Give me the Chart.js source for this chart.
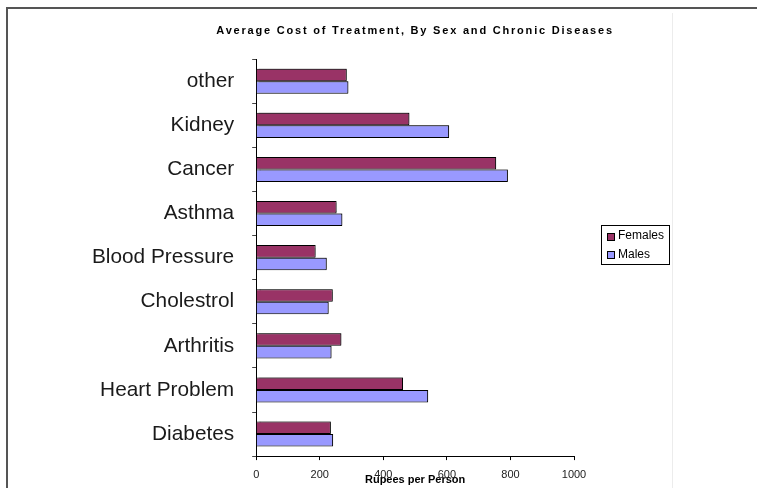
<!DOCTYPE html>
<html>
<head>
<meta charset="utf-8">
<title>Average Cost of Treatment</title>
<script src="https://cdn.jsdelivr.net/npm/chart.js@4.4.0/dist/chart.umd.min.js"></script>
<style>
    html, body { margin: 0; padding: 0; background: #fff; }
    #wrap { width: 757px; height: 488px; }
</style>
</head>
<body>
<div id="wrap"><canvas id="myChartCost" width="757" height="488"></canvas></div>
<script>
// categories, top to bottom as in the picture
let labelsDiseases = ['other', 'Kidney', 'Cancer', 'Asthma', 'Blood Pressure', 'Cholestrol', 'Arthritis', 'Heart Problem', 'Diabetes'];

// rupees per person
let dataFemales = [285, 482, 755, 253, 187, 241, 268, 462, 235];
let dataMales = [290, 607, 792, 271, 222, 228, 237, 541, 242];

// x axis ticks
let ticksRupees = [0, 200, 400, 600, 800, 1000];

let colorFemales = '#993366';
let colorMales = '#9999FF';

Chart.defaults.font.family = "'Liberation Sans', Arial, sans-serif";

// white background + frame lines (top and left), light divider on the right
const framePlugin = {
    id: 'frame',
    beforeDraw(chart) {
        const ctx = chart.ctx;
        ctx.save();
        ctx.fillStyle = '#fff';
        ctx.fillRect(0, 0, chart.width, chart.height);
        ctx.strokeStyle = '#555';
        ctx.lineWidth = 2;
        ctx.beginPath();
        ctx.moveTo(7, chart.height);
        ctx.lineTo(7, 8);
        ctx.lineTo(chart.width, 8);
        ctx.stroke();
        ctx.strokeStyle = '#ececec';
        ctx.lineWidth = 1;
        ctx.beginPath();
        ctx.moveTo(672.5, 13);
        ctx.lineTo(672.5, chart.height);
        ctx.stroke();
        ctx.restore();
    }
};

// title with wider letter spacing (box widened so the text is not squeezed)
const titleSpacingPlugin = {
    id: 'titleSpacing',
    afterLayout(chart) {
        let t = chart.titleBlock;
        if (t && !t.spaced) {
            let draw = t.draw.bind(t);
            t.draw = function (area) {
                let l = t.left, r = t.right;
                t.left = l - 100;
                t.right = r + 100;
                chart.ctx.save();
                chart.ctx.letterSpacing = '1.8px';
                draw(area);
                chart.ctx.restore();
                t.left = l;
                t.right = r;
            };
            t.spaced = true;
        }
    }
};

// small grey shadow behind the bars
const shadowPlugin = {
    id: 'barShadow',
    beforeDatasetsDraw(chart) {
        const ctx = chart.ctx;
        ctx.save();
        ctx.shadowColor = 'rgba(0,0,0,0.35)';
        ctx.shadowOffsetX = 2;
        ctx.shadowOffsetY = -1;
        ctx.shadowBlur = 1;
    },
    afterDatasetsDraw(chart) {
        chart.ctx.restore();
    }
};

// boxed legend to the right of the plot
const legendBoxPlugin = {
    id: 'legendBox',
    afterDraw(chart) {
        const ctx = chart.ctx;
        const area = chart.chartArea;
        let x = area.right + 27;
        let y = 225;
        let w = 68;
        let h = 39;
        ctx.save();
        ctx.strokeStyle = '#000';
        ctx.lineWidth = 1;
        ctx.strokeRect(x + 0.5, y + 0.5, w, h);
        ctx.font = "12px 'Liberation Sans', Arial, sans-serif";
        ctx.textBaseline = 'middle';
        chart.data.datasets.forEach(function (ds, i) {
            let cy = y + 11 + i * 18.7;
            ctx.fillStyle = ds.backgroundColor;
            ctx.fillRect(x + 6, Math.round(cy - 3.5), 7, 7);
            ctx.strokeRect(x + 6.5, Math.round(cy - 3.5) + 0.5, 7, 7);
            ctx.fillStyle = '#000';
            ctx.fillText(ds.label, x + 17, cy);
        });
        ctx.restore();
    }
};

let ctxCost = document.getElementById('myChartCost').getContext('2d');

let chartCost = new Chart(ctxCost, {
    type: 'bar',
    data: {
        labels: labelsDiseases,
        datasets: [{
            label: 'Females',
            data: dataFemales,
            backgroundColor: colorFemales,
            borderColor: '#000',
            borderWidth: 1,
            categoryPercentage: 0.57,
            barPercentage: 1.0
        }, {
            label: 'Males',
            data: dataMales,
            backgroundColor: colorMales,
            borderColor: '#000',
            borderWidth: 1,
            categoryPercentage: 0.57,
            barPercentage: 1.0
        }]
    },
    options: {
        indexAxis: 'y',
        responsive: false,
        animation: false,
        devicePixelRatio: 1,
        layout: {
            padding: { left: 74, right: 183, top: 0, bottom: 0 }
        },
        plugins: {
            legend: { display: false },
            tooltip: { enabled: false },
            title: {
                display: true,
                text: 'Average Cost of Treatment, By Sex and Chronic Diseases',
                fullSize: false,
                color: '#000',
                font: { size: 11, weight: 'bold' },
                padding: { top: 24, bottom: 22 }
            }
        },
        scales: {
            x: {
                min: ticksRupees[0],
                max: ticksRupees[ticksRupees.length - 1],
                ticks: {
                    stepSize: ticksRupees[1] - ticksRupees[0],
                    color: '#222',
                    font: { size: 11 },
                    padding: 8,
                    callback: function (value) {
                        return String(value);
                    }
                },
                grid: { drawOnChartArea: false, tickLength: 4, color: '#000' },
                border: { color: '#000', width: 1 },
                title: {
                    display: true,
                    text: 'Rupees per Person',
                    color: '#000',
                    font: { size: 11, weight: 'bold' },
                    padding: { top: -15.5, bottom: 1 }
                }
            },
            y: {
                ticks: {
                    color: '#1a1a1a',
                    font: { size: 20.8 },
                    padding: 18
                },
                grid: { drawOnChartArea: false, tickLength: 4, color: '#444' },
                border: { color: '#000', width: 1 }
            }
        }
    },
    plugins: [framePlugin, titleSpacingPlugin, shadowPlugin, legendBoxPlugin]
});
</script>
</body>
</html>
